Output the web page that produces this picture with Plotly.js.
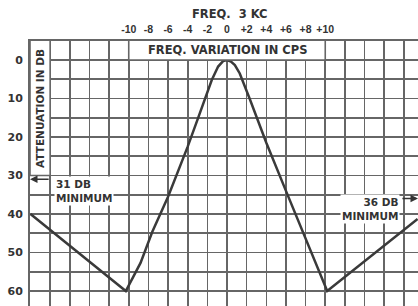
<!DOCTYPE html>
<html>
<head>
<meta charset="utf-8">
<script src="https://cdn.plot.ly/plotly-3.0.1.min.js"></script>
<style>html,body{margin:0;padding:0;background:#fff;}#chart{width:418px;height:306px;}</style>
</head>
<body>
<div id="chart"></div>
<script>
// Frequency variation (cps) and attenuation (dB)
const freqCps = [-20, -10.3, -8.8, -7.6, -6, -4.9, -4, -3, -2.2, -1.55, -0.9, -0.4, 0, 0.4, 0.8, 1.3, 2.3, 3.2, 4, 6, 8, 10.2, 19.4];
const attenDb = [40, 60, 52.7, 44.6, 35.5, 28.6, 22.5, 15.5, 10, 5.2, 1.7, 0.3, 0, 0.4, 1.3, 3.5, 10, 16, 21.5, 34, 46.5, 60, 41.3];

const xTickVals = [-20,-18,-16,-14,-12,-10,-8,-6,-4,-2,0,2,4,6,8,10,12,14,16,18];
const xTickText = ['','','','','','-10','-8','-6','-4','-2','0','+2','+4','+6','+8','+10','','','',''];
const yTickVals = [0,5,10,15,20,25,30,35,40,45,50,55,60];
const yTickText = ['0','','10','','20','','30','','40','','50','','60'];

const leftMin = 31, rightMin = 36;

const FAM = 'DejaVu Sans';
const NARROW = 'Liberation Sans';
const GRID = '#666666';
const INK = '#333333';

const trace = {
  x: freqCps, y: attenDb, type: 'scatter', mode: 'lines',
  line: {color: '#3a3a3a', width: 2.5}, hoverinfo: 'skip'
};

const layout = {
  width: 418, height: 306,
  margin: {l: 30, r: 0, t: 41, b: 0, pad: 0},
  paper_bgcolor: '#ffffff', plot_bgcolor: '#ffffff',
  showlegend: false,
  xaxis: {
    range: [-20.05, 19.44], side: 'top',
    tickmode: 'array', tickvals: xTickVals, ticktext: xTickText,
    showgrid: true, gridcolor: GRID, gridwidth: 1.6,
    zeroline: false, showline: true, linecolor: GRID, linewidth: 2,
    ticks: '', tickangle: 0, ticklabelstandoff: 2,
    tickfont: {family: NARROW, size: 10.5, color: INK, weight: 'bold'},
    fixedrange: true
  },
  yaxis: {
    range: [63.9, -4.94],
    tickmode: 'array', tickvals: yTickVals, ticktext: yTickText,
    showgrid: true, gridcolor: GRID, gridwidth: 1.6,
    zeroline: false, showline: true, linecolor: GRID, linewidth: 2,
    ticks: '', ticklabelstandoff: 3,
    tickfont: {family: FAM, size: 11, color: INK, weight: 'bold'},
    fixedrange: true
  },
  shapes: [
    {type: 'rect', xref: 'x', yref: 'y', x0: -10, x1: 10, y0: -5.5, y1: 0, fillcolor: '#ffffff', line: {color: GRID, width: 1.6}, layer: 'above'},
    {type: 'rect', xref: 'x', yref: 'y', x0: -20.05, x1: -18, y0: -5.5, y1: 30, fillcolor: '#ffffff', line: {color: GRID, width: 1.6}, layer: 'above'}
  ],
  annotations: [
    {x: 0.3, y: 1, xref: 'x', yref: 'paper', yanchor: 'middle', yshift: 27,
     text: 'FREQ.&nbsp; 3 KC', showarrow: false,
     font: {family: FAM, size: 11.5, color: INK, weight: 'bold'}},
    {x: 0.1, y: -2.5, xref: 'x', yref: 'y', text: 'FREQ. VARIATION IN CPS', showarrow: false,
     font: {family: FAM, size: 11.5, color: INK, weight: 'bold'}},
    {x: -19.03, y: 12.7, xref: 'x', yref: 'y', text: 'ATTENUATION IN DB', textangle: -90, showarrow: false,
     font: {family: FAM, size: 10.5, color: INK, weight: 'bold'}},
    {x: -17.6, y: 33.9, xref: 'x', yref: 'y', xanchor: 'left', align: 'left',
     text: leftMin + ' DB<br>MINIMUM', showarrow: false, bgcolor: '#ffffff', borderpad: 1,
     font: {family: FAM, size: 10.5, color: INK, weight: 'bold'}},
    {x: -20.05, y: leftMin, xref: 'x', yref: 'y', ax: -18.0, ay: leftMin, axref: 'x', ayref: 'y',
     text: '', showarrow: true, arrowhead: 2, arrowsize: 1, arrowwidth: 1.5, arrowcolor: INK},
    {x: 17.6, y: 38.6, xref: 'x', yref: 'y', xanchor: 'right', align: 'right',
     text: rightMin + ' DB<br>MINIMUM', showarrow: false, bgcolor: '#ffffff', borderpad: 1,
     font: {family: FAM, size: 10.5, color: INK, weight: 'bold'}},
    {x: 19.44, y: rightMin, xref: 'x', yref: 'y', ax: 17.7, ay: rightMin, axref: 'x', ayref: 'y',
     text: '', showarrow: true, arrowhead: 2, arrowsize: 1, arrowwidth: 1.5, arrowcolor: INK}
  ]
};

Plotly.newPlot('chart', [trace], layout, {staticPlot: true, displayModeBar: false});
</script>
</body>
</html>
